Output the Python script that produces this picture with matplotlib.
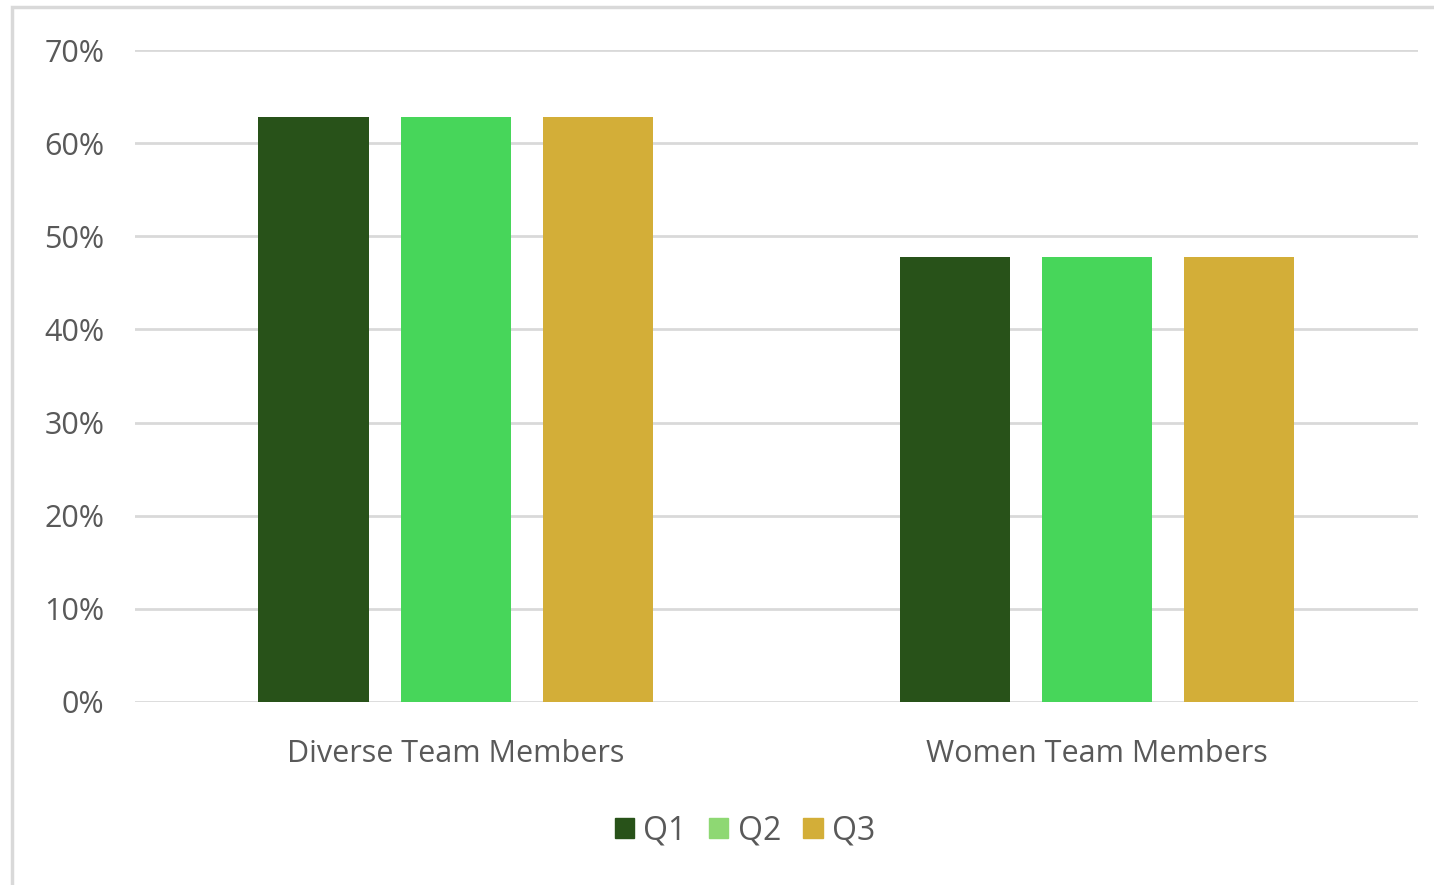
import matplotlib.pyplot as plt
from matplotlib.patches import Rectangle, Patch
from matplotlib.ticker import FuncFormatter
import numpy as np

categories = ["Diverse Team Members", "Women Team Members"]
series = ["Q1", "Q2", "Q3"]
q1 = [0.628, 0.478]
q2 = [0.628, 0.478]
q3 = [0.628, 0.478]
yticks = [0, 0.1, 0.2, 0.3, 0.4, 0.5, 0.6, 0.7]

bar_colors = ["#285219", "#47D65A", "#D3AE38"]
legend_colors = ["#285219", "#8ED873", "#D3AE38"]
txt = "#595959"

plt.rcParams['font.family'] = ['Open Sans', 'DejaVu Sans']

fig = plt.figure(figsize=(14.34, 8.85), dpi=100)
ax = fig.add_axes([0.0941, 0.2068, 0.8947, 0.7367])

# outer chart frame
fig.patches.append(Rectangle((12 / 1434, -0.05), 1.1, 1 - 7 / 885 + 0.05,
                             transform=fig.transFigure, fill=False,
                             edgecolor="#d9d9d9", linewidth=2.5))

x = np.arange(len(categories))
w = 0.172
step = 0.2215
for i, vals in enumerate([q1, q2, q3]):
    ax.bar(x + (i - 1) * step, vals, width=w, color=bar_colors[i], zorder=3)

ax.set_xlim(-0.5, 1.5)
ax.set_ylim(0, 0.7)
ax.set_yticks(yticks)
ax.yaxis.set_major_formatter(FuncFormatter(lambda v, p: f"{v*100:.0f}%"))
ax.grid(axis="y", color="#d9d9d9", linewidth=2, zorder=0)
ax.set_xticks(x)
ax.set_xticklabels(categories)
for s in ax.spines.values():
    s.set_visible(False)
ax.tick_params(length=0, colors=txt)
ax.tick_params(axis="y", pad=22, labelsize=22)
ax.tick_params(axis="x", pad=27, labelsize=22)

handles = [Patch(color=c, label=s) for c, s in zip(legend_colors, series)]
fig.legend(handles=handles, loc="center", bbox_to_anchor=(745 / 1434, 1 - 831 / 885),
           ncol=3, frameon=False, fontsize=23, labelcolor=txt,
           handlelength=0.6, handleheight=0.6, handletextpad=0.3, columnspacing=0.7)

fig.savefig("out.png", dpi=100, facecolor="white")
